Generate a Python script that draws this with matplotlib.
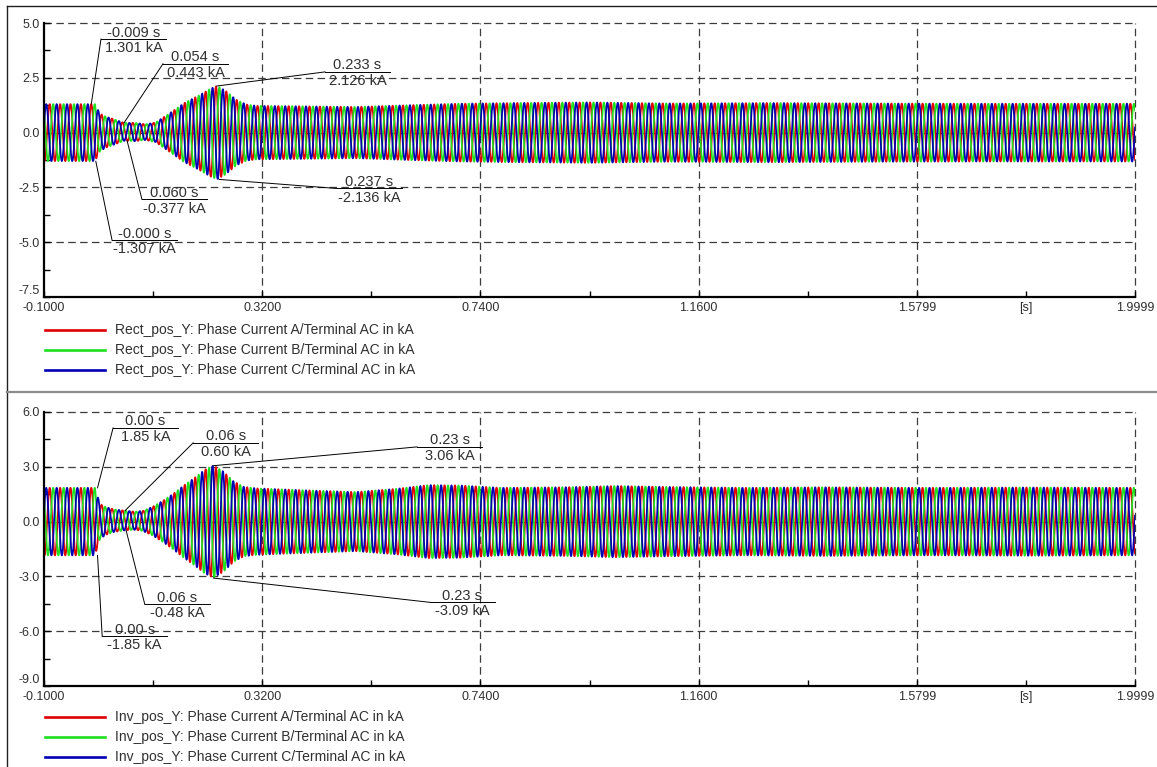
import numpy as np
import matplotlib
matplotlib.use("Agg")
import matplotlib.pyplot as plt
from matplotlib.lines import Line2D

W, H = 1157, 767
plt.rcParams['font.family'] = ['Liberation Sans', 'DejaVu Sans']

# ---------------- data ----------------
f_grid = 50.0  # Hz

# Rectifier side: amplitude envelope (kA) of the three phase currents
rect_env_t = [-0.1, -0.002, 0.008, 0.02, 0.035, 0.054, 0.075, 0.095, 0.115, 0.14,
              0.17, 0.2, 0.22, 0.233, 0.25, 0.27, 0.29, 0.31, 0.4, 0.5, 0.6, 0.7,
              0.8, 0.95, 1.1, 1.3, 1.5, 1.7, 2.0]
rect_env_a = [1.30, 1.30, 0.85, 0.70, 0.58, 0.41, 0.42, 0.36, 0.45, 0.85,
              1.35, 1.72, 2.00, 2.13, 1.90, 1.50, 1.28, 1.22, 1.20, 1.17, 1.25, 1.32,
              1.35, 1.38, 1.33, 1.35, 1.33, 1.32, 1.32]
rect_dc_t = [-0.1, 0.0, 0.03, 0.06, 0.10, 0.15, 2.0]
rect_dc_v = [0.0, 0.0, 0.03, 0.033, 0.02, 0.0, 0.0]

# Inverter side
inv_env_t = [-0.1, -0.002, 0.008, 0.02, 0.035, 0.056, 0.075, 0.09, 0.11, 0.13,
             0.15, 0.17, 0.19, 0.21, 0.226, 0.245, 0.265, 0.285, 0.31, 0.4, 0.5,
             0.58, 0.64, 0.7, 0.78, 0.9, 1.0, 1.1, 1.25, 1.4, 1.6, 1.8, 2.0]
inv_env_a = [1.85, 1.85, 0.95, 0.75, 0.62, 0.54, 0.50, 0.55, 0.80, 1.15,
             1.55, 2.00, 2.40, 2.85, 3.07, 2.75, 2.20, 1.90, 1.82, 1.72, 1.62,
             1.80, 2.00, 1.98, 1.85, 1.88, 1.95, 1.90, 1.85, 1.88, 1.85, 1.87, 1.85]
inv_dc_t = [-0.1, 0.0, 0.03, 0.058, 0.10, 0.15, 2.0]
inv_dc_v = [0.0, 0.0, 0.05, 0.06, 0.03, 0.0, 0.0]

# Cursor labels: (time s, value kA)
rect_marks_t = [-0.009, 0.054, 0.233, 0.237, 0.060, -0.0003]
rect_marks_v = [1.301, 0.443, 2.126, -2.136, -0.377, -1.307]
inv_marks_t = [0.003, 0.056, 0.226, 0.226, 0.058, 0.003]
inv_marks_v = [1.85, 0.60, 3.06, -3.09, -0.48, -1.85]

x_ticks = [-0.1, 0.32, 0.74, 1.16, 1.5799, 1.9999]
x_ticklabels = ['-0.1000', '0.3200', '0.7400', '1.1600', '1.5799', '1.9999']
rect_yticks = [-7.5, -5.0, -2.5, 0.0, 2.5, 5.0]
inv_yticks = [-9.0, -6.0, -3.0, 0.0, 3.0, 6.0]

rect_legend = ['Rect_pos_Y: Phase Current A/Terminal AC in kA',
               'Rect_pos_Y: Phase Current B/Terminal AC in kA',
               'Rect_pos_Y: Phase Current C/Terminal AC in kA']
inv_legend = ['Inv_pos_Y: Phase Current A/Terminal AC in kA',
              'Inv_pos_Y: Phase Current B/Terminal AC in kA',
              'Inv_pos_Y: Phase Current C/Terminal AC in kA']

phase_colors = ['#e00000', '#1ee01e', '#0000b4']

# ---------------- layout / style ----------------
GRID_C = '#3c3c3c'
TXT_C = '#303030'
DASH = (6, 3.5)

fig = plt.figure(figsize=(W / 100, H / 100), dpi=100)


def fx(p):
    return p / W


def fy(p):
    return 1 - p / H


def make_axes(top_px, bot_px):
    return fig.add_axes([fx(44), fy(bot_px), (1135 - 44) / W, (bot_px - top_px) / H])


def style_axes(ax, yticks):
    ymin, ymax = yticks[0], yticks[-1]
    ax.set_xlim(x_ticks[0], x_ticks[-1])
    ax.set_ylim(ymin, ymax)
    for s in ('top', 'right'):
        ax.spines[s].set_visible(False)
    for s in ('left', 'bottom'):
        ax.spines[s].set_linewidth(1.6)
        ax.spines[s].set_color('black')
        ax.spines[s].set_zorder(5)
    ax.set_xticks(x_ticks)
    ax.set_xticklabels(x_ticklabels)
    xminor = [(a + b) / 2 for a, b in zip(x_ticks[:-1], x_ticks[1:])]
    ax.set_xticks(xminor, minor=True)
    ax.set_xticklabels(['', '', '', '', '[s]'], minor=True)
    ax.set_yticks(yticks)
    ax.set_yticklabels([f'{v:.1f}' for v in yticks])
    yminor = [(a + b) / 2 for a, b in zip(yticks[:-1], yticks[1:])]
    ax.set_yticks(yminor, minor=True)
    ax.tick_params(which='both', direction='in', length=4, width=1, colors='black',
                   labelcolor=TXT_C, labelsize=9)
    ax.tick_params(axis='x', which='both', pad=3.5)
    ax.tick_params(axis='y', which='both', pad=3)
    # the lowest y label sits a little above its tick, clear of the time labels
    ax.get_yticklabels()[0].set_verticalalignment('bottom')
    # dashed grid
    for v in yticks[1:]:
        ax.axhline(v, color=GRID_C, lw=0.9, dashes=DASH, zorder=0, clip_on=False)
    for v in x_ticks[1:]:
        ax.axvline(v, color=GRID_C, lw=0.9, dashes=DASH, zorder=0, clip_on=False)


def draw_phases(ax, env_t, env_a, dc_t, dc_v):
    t = np.arange(-0.1, 2.0, 1e-4)
    amp = np.interp(t, env_t, env_a)
    dc = np.interp(t, dc_t, dc_v)
    w = 2 * np.pi * f_grid
    phi = np.pi / 2 + w * 0.009
    for k, c in enumerate(phase_colors):
        i_k = amp * np.sin(w * t + phi - k * 2 * np.pi / 3) + dc
        ax.plot(t, i_k, color=c, lw=1.25, zorder=2)


def draw_marks(ax, ts, vs, anchors, decimals, seg=0.125):
    for t0, v0, (ax_, ay_) in zip(ts, vs, anchors):
        ax.plot([t0, ax_], [v0, ay_], color='black', lw=0.7, zorder=6)
        ax.plot([ax_, ax_ + seg], [ay_, ay_], color='black', lw=0.7, zorder=6)
        xc = ax_ + seg / 2
        ax.annotate(f'{t0:.{decimals}f} s', (xc, ay_), xytext=(0, 1.8),
                    textcoords='offset points', ha='center', va='baseline',
                    fontsize=10.5, color=TXT_C, zorder=7)
        ax.annotate(f'{v0:.{decimals}f} kA', (xc, ay_), xytext=(0, -9.4),
                    textcoords='offset points', ha='center', va='baseline',
                    fontsize=10.5, color=TXT_C, zorder=7)


def draw_legend(labels, rows_px):
    for lab, c, yp in zip(labels, phase_colors, rows_px):
        fig.add_artist(Line2D([fx(45), fx(105)], [fy(yp), fy(yp)], color=c, lw=1.9,
                              transform=fig.transFigure))
        fig.text(fx(115), fy(yp), lab, fontsize=10, color=TXT_C, va='center', ha='left')


# ---------------- top panel: rectifier ----------------
ax1 = make_axes(23, 297)
style_axes(ax1, rect_yticks)
draw_phases(ax1, rect_env_t, rect_env_a, rect_dc_t, rect_dc_v)
rect_anchor = [(0.0097, 4.27), (0.129, 3.14), (0.441, 2.77),
               (0.464, -2.55), (0.0886, -3.05), (0.031, -4.91)]
draw_marks(ax1, rect_marks_t, rect_marks_v, rect_anchor, 3)
draw_legend(rect_legend, [330, 350, 370])

# ---------------- bottom panel: inverter ----------------
ax2 = make_axes(412, 686)
style_axes(ax2, inv_yticks)
draw_phases(ax2, inv_env_t, inv_env_a, inv_dc_t, inv_dc_v)
inv_anchor = [(0.033, 5.13), (0.187, 4.31), (0.618, 4.09),
              (0.643, -4.42), (0.094, -4.53), (0.012, -6.27)]
draw_marks(ax2, inv_marks_t, inv_marks_v, inv_anchor, 2)
draw_legend(inv_legend, [717, 737, 757])

# ---------------- frame ----------------
fig.add_artist(Line2D([fx(7), fx(7)], [fy(6), 0], color='#202020', lw=1.0,
                      transform=fig.transFigure))
fig.add_artist(Line2D([fx(7), 1], [fy(6), fy(6)], color='#202020', lw=1.0,
                      transform=fig.transFigure))
fig.add_artist(Line2D([fx(7), 1], [fy(392), fy(392)], color='#8c8c8c', lw=1.6,
                      transform=fig.transFigure))

fig.savefig('out.png', dpi=100)
